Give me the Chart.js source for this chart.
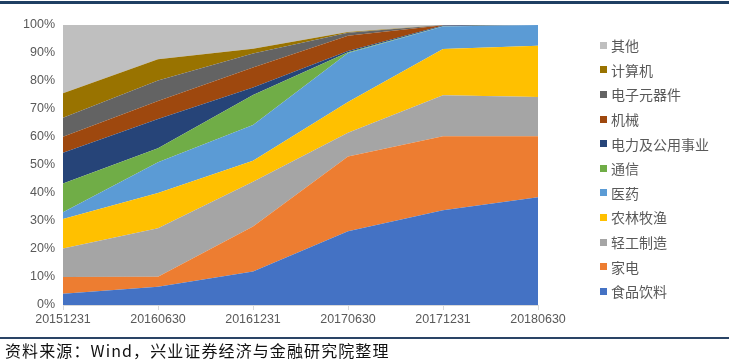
<!DOCTYPE html>
<html>
<head>
<meta charset="utf-8">
<script src="https://cdn.jsdelivr.net/npm/chart.js@4/dist/chart.umd.min.js"></script>
<style>
  html, body { margin: 0; padding: 0; background: #ffffff; width: 729px; height: 363px; overflow: hidden; }
  #wrap { position: absolute; left: 0; top: 2px; width: 729px; height: 336px; }
  #topline { position: absolute; left: 0; top: 1px; width: 729px; height: 3px; background: #1f3f63; }
  #botline { position: absolute; left: 0; top: 337px; width: 729px; height: 2px; background: #2a4466; }
  #source { position: absolute; left: 5px; top: 340px; font-family: "Noto Sans CJK SC", sans-serif; font-size: 16px; letter-spacing: 1.1px; color: #111; line-height: 20px; white-space: nowrap; }
  #legend { position: absolute; left: 600px; top: 33px; font-family: "Noto Sans CJK SC", sans-serif; font-size: 14px; color: #595959; }
  .item { height: 24.6px; line-height: 22px; white-space: nowrap; display: flex; align-items: center; }
  .sw { width: 7px; height: 7px; margin-right: 4px; flex: none; }
</style>
</head>
<body>
<div id="topline"></div>
<div id="wrap"><canvas id="c" width="729" height="336"></canvas></div>
<div id="legend"></div>
<div id="botline"></div>
<div id="source">资料来源：Wind，兴业证券经济与金融研究院整理</div>
<script>
// ---- data (percent share) ----
const categories = ['20151231', '20160630', '20161231', '20170630', '20171231', '20180630'];
const seriesNames = ['食品饮料', '家电', '轻工制造', '农林牧渔', '医药', '通信', '电力及公用事业', '机械', '电子元器件', '计算机', '其他'];
const food        = [4.0, 6.5, 12.0, 26.3, 33.8, 38.5];
const appliance   = [6.0, 3.6, 16.0, 26.7, 26.5, 21.8];
const lightInd    = [10.2, 17.3, 16.0, 8.5, 14.6, 14.0];
const agriculture = [10.5, 12.6, 7.5, 11.0, 16.5, 18.3];
const pharma      = [2.4, 11.0, 12.8, 17.5, 8.1, 7.4];
const telecom     = [10.3, 5.0, 10.7, 0.3, 0.05, 0];
const utilities   = [11.0, 10.4, 2.7, 0.4, 0.3, 0];
const machinery   = [5.7, 6.5, 7.1, 5.5, 0.1, 0];
const electronics = [6.8, 7.3, 5.0, 1.0, 0.05, 0];
const computer    = [8.7, 7.6, 1.7, 0.3, 0, 0];
const others      = [24.4, 12.2, 8.5, 2.5, 0, 0];
const yTicks = [0, 10, 20, 30, 40, 50, 60, 70, 80, 90, 100];

const seriesValues = [food, appliance, lightInd, agriculture, pharma, telecom, utilities, machinery, electronics, computer, others];
const colors = ['#4472C4', '#ED7D31', '#A5A5A5', '#FFC000', '#5B9BD5', '#70AD47', '#264478', '#9E480E', '#636363', '#997300', '#BFBFBF'];

const datasets = seriesNames.map((name, i) => ({
  label: name,
  data: seriesValues[i],
  backgroundColor: colors[i],
  borderColor: colors[i],
  borderWidth: 0,
  pointRadius: 0,
  tension: 0,
  fill: i === 0 ? 'origin' : '-1'
}));

const tickFont = { family: '"Liberation Sans", Arial, sans-serif', size: 12.5 };

new Chart(document.getElementById('c'), {
  type: 'line',
  data: { labels: categories, datasets },
  options: {
    responsive: false,
    animation: false,
    layout: { padding: { left: 0, top: 23, right: 191, bottom: 0 } },
    plugins: { legend: { display: false }, tooltip: { enabled: false } },
    scales: {
      x: {
        offset: false,
        grid: { display: true, drawOnChartArea: false, drawTicks: true, tickLength: 5, color: '#d9d9d9' },
        border: { display: true, color: '#d9d9d9' },
        ticks: { color: '#595959', font: tickFont, padding: 2, maxRotation: 0, autoSkip: false },
        afterFit: (s) => { s.height = 33; }
      },
      y: {
        stacked: true,
        min: 0, max: 100,
        afterBuildTicks: (s) => { s.ticks = yTicks.map(v => ({ value: v })); },
        grid: { display: false, drawTicks: false },
        border: { display: false },
        ticks: { color: '#595959', font: tickFont, padding: 8, callback: (v) => v + '%' },
        afterFit: (s) => { s.width = 63; }
      }
    }
  }
});

// legend (reverse order, like the reference)
const lg = document.getElementById('legend');
for (let i = seriesNames.length - 1; i >= 0; i--) {
  const row = document.createElement('div');
  row.className = 'item';
  const sw = document.createElement('span');
  sw.className = 'sw';
  sw.style.background = colors[i];
  const tx = document.createElement('span');
  tx.textContent = seriesNames[i];
  row.appendChild(sw);
  row.appendChild(tx);
  lg.appendChild(row);
}
</script>
</body>
</html>
